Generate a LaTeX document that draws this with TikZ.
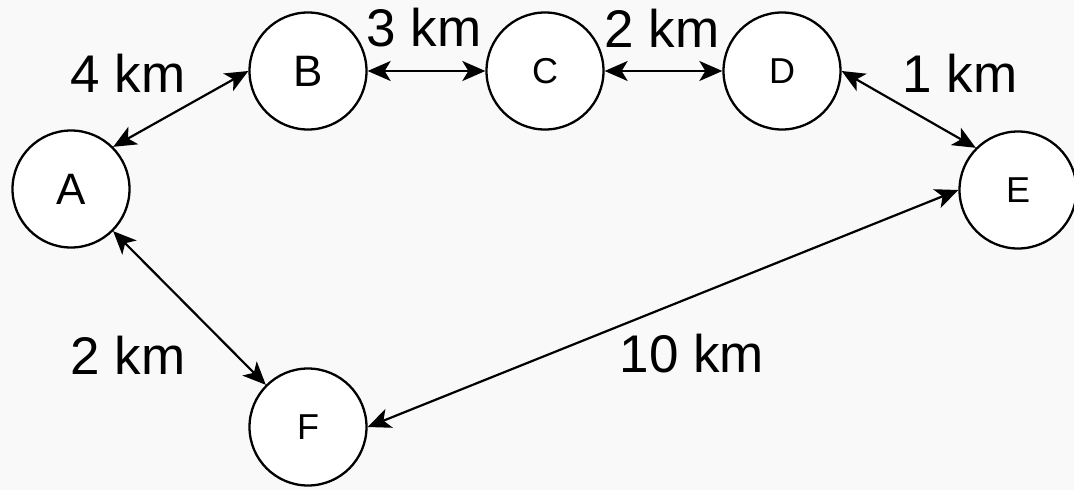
\documentclass[tikz,border=0pt]{standalone}
\usepackage{fontspec}
\setmainfont{Liberation Sans}
\usetikzlibrary{arrows.meta}
\definecolor{bgc}{HTML}{F9F9F9}
\tikzset{
  city/.style={circle, draw=black, fill=white, line width=2.3pt, minimum size=117pt, inner sep=0pt},
  big/.style={font=\fontsize{44}{50}\selectfont},
  small/.style={font=\fontsize{36}{42}\selectfont},
  lbl/.style={font=\fontsize{53}{60}\selectfont, inner sep=0pt},
  road/.style={line width=2.2pt, {Stealth[length=23pt,width=20pt,inset=6pt]}-{Stealth[length=23pt,width=20pt,inset=6pt]}},
}
\begin{document}
\begin{tikzpicture}[x=1pt,y=-1pt]
\fill[bgc] (0,0) rectangle (1074,490);
\useasboundingbox (0,0) rectangle (1074,490);
\node[city,big] (A) at (71,189) {A};
\node[city,big] (B) at (308,71) {B};
\node[city,small] (C) at (545,71) {C};
\node[city,small] (D) at (782,71) {D};
\node[city,small] (E) at (1018,190) {E};
\node[city,small] (F) at (308,427) {F};
\draw[road] (A.45) -- (B.west);
\draw[road] (B.east) -- (C.west);
\draw[road] (C.east) -- (D.west);
\draw[road] (D.east) -- (E.135);
\draw[road] (A.-45) -- (F.135);
\draw[road] (F.east) -- (E.west);
\node[lbl] (l1) at (128,73) {4 km};
\node[lbl] (l2) at (424,28) {3 km};
\node[lbl] (l3) at (662,28) {2 km};
\node[lbl] (l4) at (960,73) {1 km};
\node[lbl] (l5) at (128,355) {2 km};
\node[lbl] (l6) at (692,354) {10 km};
\end{tikzpicture}
\end{document}
